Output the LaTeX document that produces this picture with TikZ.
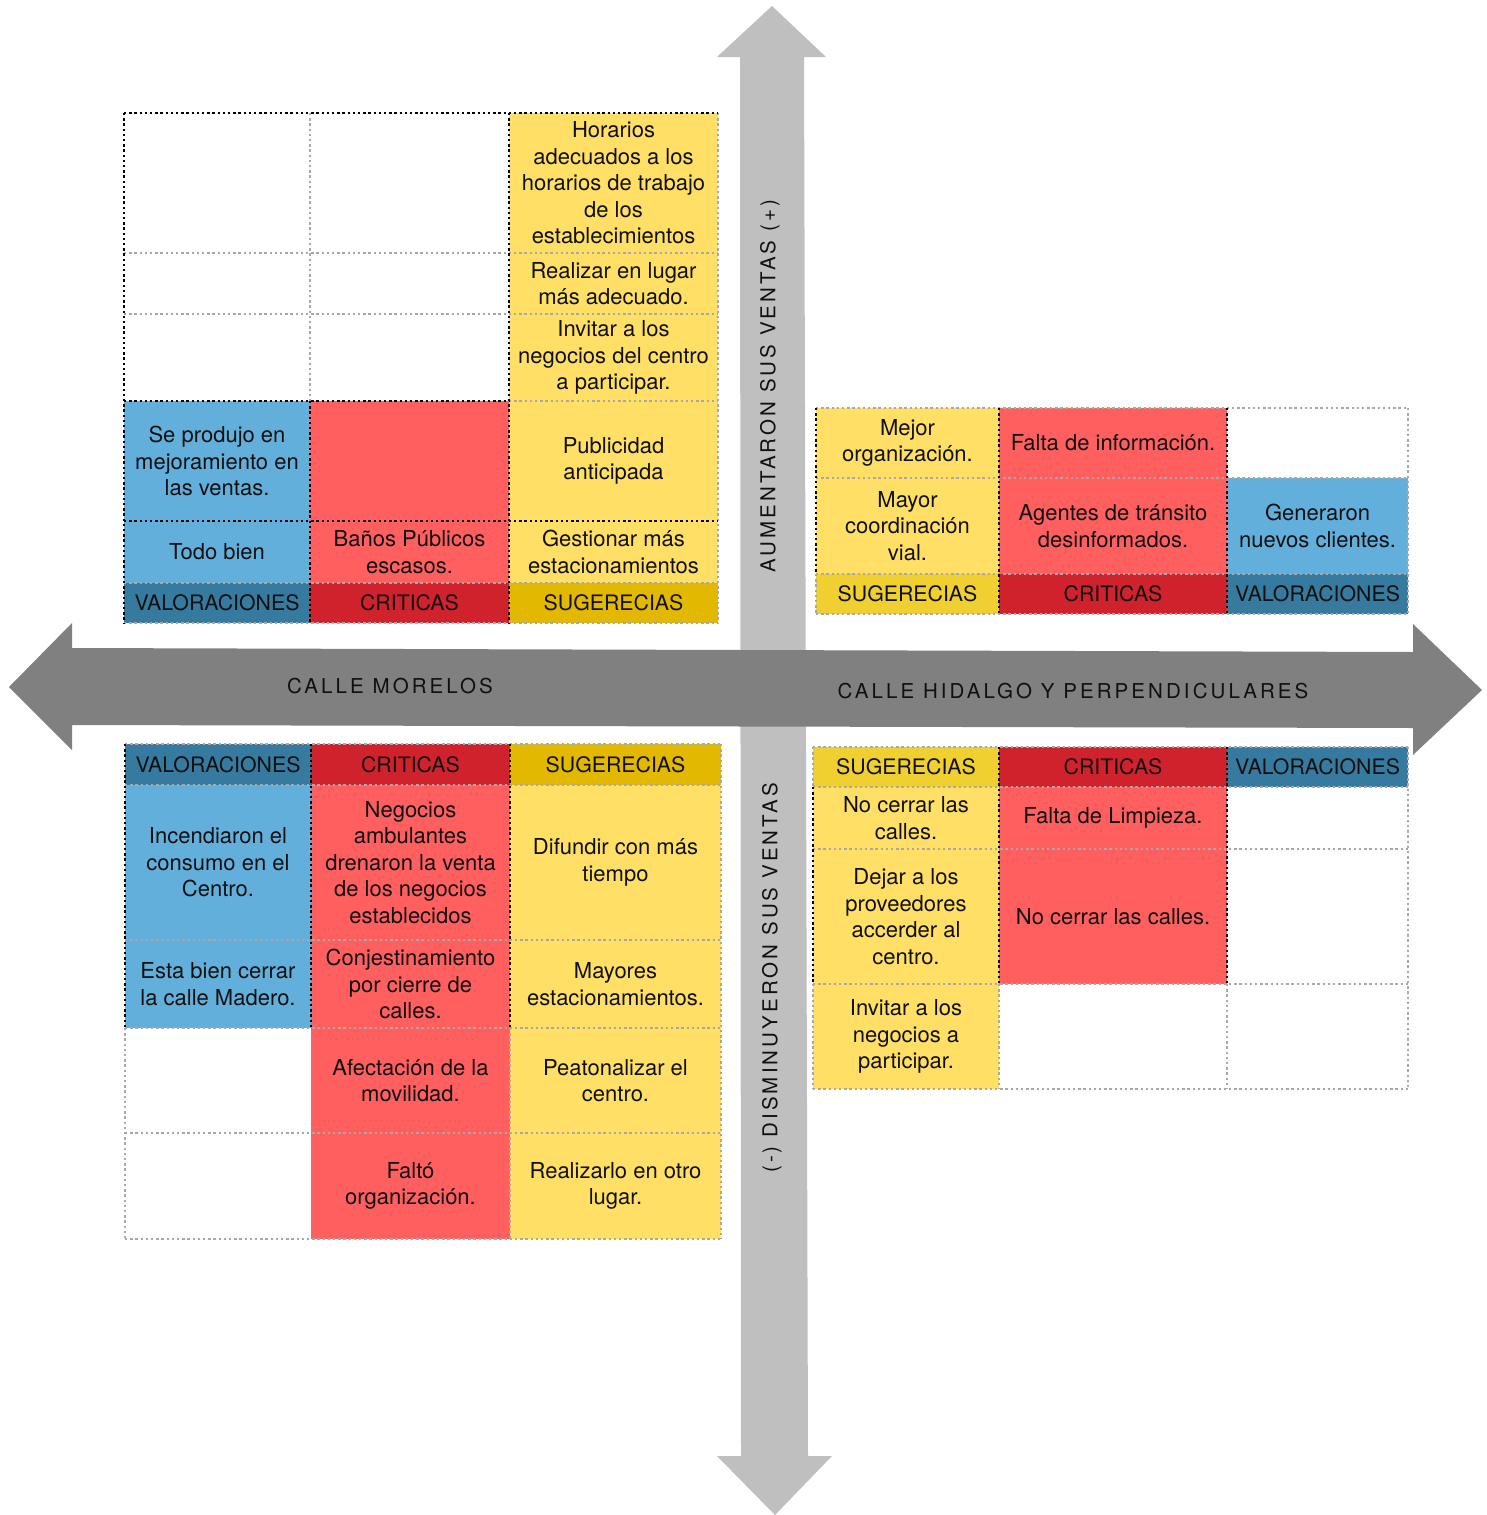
\documentclass[tikz,border=0pt]{standalone}
\usepackage{fontspec}
\setmainfont{TeX Gyre Heros}
\newfontfamily\spaced[LetterSpace=15]{TeX Gyre Heros}
\definecolor{ylt}{HTML}{FFDF66}
\definecolor{rlt}{HTML}{FF5F5F}
\definecolor{blt}{HTML}{63AFDB}
\definecolor{bdk}{HTML}{367B9F}
\definecolor{rdk}{HTML}{D0222D}
\definecolor{ydk}{HTML}{E3B800}
\definecolor{ydktwo}{HTML}{F0D030}
\definecolor{agrey}{HTML}{BFBFBF}
\definecolor{hgrey}{HTML}{808080}
\definecolor{gline}{HTML}{A8A8A8}
\definecolor{txt}{HTML}{101010}
\newcommand\mycell[7]{\fill[#6] (#2,#3) rectangle (#4,#5);
  \node[celltext] (#1) at ({(#2+#4)/2},{(#3+#5)/2}) {#7};}
\newcommand\myhead[7]{\fill[#6] (#2,#3) rectangle (#4,#5);
  \node[headtext] (#1) at ({(#2+#4)/2},{(#3+#5)/2}) {#7};}
\newcommand\mygl[4]{\draw[gdot] (#1,#2) -- (#3,#4);}
\newcommand\mybl[4]{\draw[bdot] (#1,#2) -- (#3,#4);}
\begin{document}
\begin{tikzpicture}[x=1pt,y=-1pt,
  celltext/.style={align=center,text=txt,font=\fontsize{22}{26.5}\selectfont,inner sep=0pt},
  headtext/.style={align=center,text=txt,font=\fontsize{21.3}{26}\selectfont,inner sep=0pt},
  axislabel/.style={text=txt,font=\fontsize{20.5}{24}\selectfont\spaced,inner sep=0pt},
  gdot/.style={draw=gline,line width=2.4pt,dash pattern=on 2.4pt off 2.8pt},
  bdot/.style={draw=black,line width=2.4pt,dash pattern=on 2.4pt off 2.8pt}]
\useasboundingbox (0,0) rectangle (1486,1515);
% vertical arrow
\fill[agrey] (772,6) -- (826,57) -- (804,57) -- (808,1456) -- (832,1456) -- (775,1515)
  -- (717,1456) -- (741,1456) -- (740,57) -- (717,57) -- cycle;
% horizontal arrow
\fill[hgrey] (9,687) -- (72,623) -- (72,648) -- (1413,652) -- (1413,624) -- (1482,690)
  -- (1413,755) -- (1413,728) -- (72,725) -- (72,750) -- cycle;
\node[axislabel,rotate=90] (vup) at (770,386) {AUMENTARON SUS VENTAS (+)};
\node[axislabel,rotate=90] (vdn) at (772,978) {(-) DISMINUYERON SUS VENTAS};
\node[axislabel] (hl) at (390,686) {CALLE MORELOS};
\node[axislabel] (hr) at (1073,691) {CALLE HIDALGO Y PERPENDICULARES};
% ---------- top-left ----------
\mycell{tlA3}{509}{113}{718}{253}{ylt}{Horarios\\adecuados a los\\horarios de trabajo\\de los\\establecimientos}
\mycell{tlB3}{509}{253}{718}{314}{ylt}{Realizar en lugar\\más adecuado.}
\mycell{tlC3}{509}{314}{718}{401}{ylt}{Invitar a los\\negocios del centro\\a participar.}
\mycell{tlD1}{124}{401}{310}{521}{blt}{Se produjo en\\mejoramiento en\\las ventas.}
\mycell{tlD2}{310}{401}{509}{521}{rlt}{}
\mycell{tlD3}{509}{401}{718}{521}{ylt}{Publicidad\\anticipada}
\mycell{tlE1}{124}{521}{310}{583}{blt}{Todo bien}
\mycell{tlE2}{310}{521}{509}{583}{rlt}{Baños Públicos\\escasos.}
\mycell{tlE3}{509}{521}{718}{583}{ylt}{Gestionar más\\estacionamientos}
\myhead{tlH1}{124}{583}{310}{623}{bdk}{VALORACIONES}
\myhead{tlH2}{310}{583}{509}{623}{rdk}{CRITICAS}
\myhead{tlH3}{509}{583}{718}{623}{ydk}{SUGERECIAS}
\mygl{124}{253}{718}{253}
\mygl{124}{314}{718}{314}
\mygl{509}{401}{718}{401}
\mygl{124}{583}{718}{583}
\mygl{124}{623}{718}{623}
\mygl{310}{113}{310}{401}
\mygl{718}{113}{718}{623}
\mybl{124}{113}{718}{113}
\mybl{124}{401}{509}{401}
\mybl{124}{521}{718}{521}
\mybl{124}{113}{124}{623}
\mybl{310}{401}{310}{623}
\mybl{509}{113}{509}{623}
% ---------- top-right ----------
\mycell{trA1}{816}{408}{999}{478}{ylt}{Mejor\\organización.}
\mycell{trA2}{999}{408}{1227}{478}{rlt}{Falta de información.}
\mycell{trB1}{816}{478}{999}{574}{ylt}{Mayor\\coordinación\\vial.}
\mycell{trB2}{999}{478}{1227}{574}{rlt}{Agentes de tránsito\\desinformados.}
\mycell{trB3}{1227}{478}{1408}{574}{blt}{Generaron\\nuevos clientes.}
\myhead{trH1}{816}{574}{999}{614}{ydktwo}{SUGERECIAS}
\myhead{trH2}{999}{574}{1227}{614}{rdk}{CRITICAS}
\myhead{trH3}{1227}{574}{1408}{614}{bdk}{VALORACIONES}
\mygl{816}{408}{1408}{408}
\mygl{816}{478}{1408}{478}
\mygl{816}{574}{1408}{574}
\mygl{816}{614}{1408}{614}
\mygl{1408}{408}{1408}{614}
\mygl{816}{574}{816}{614}
\mybl{816}{408}{816}{574}
\mybl{999}{408}{999}{614}
\mybl{1227}{408}{1227}{614}
% ---------- bottom-left ----------
\myhead{blH1}{125}{744}{311}{785}{bdk}{VALORACIONES}
\myhead{blH2}{311}{744}{510}{785}{rdk}{CRITICAS}
\myhead{blH3}{510}{744}{721}{785}{ydk}{SUGERECIAS}
\mycell{blA1}{125}{785}{311}{940}{blt}{Incendiaron el\\consumo en el\\Centro.}
\mycell{blA2}{311}{785}{510}{940}{rlt}{Negocios\\ambulantes\\drenaron la venta\\de los negocios\\establecidos}
\mycell{blA3}{510}{785}{721}{940}{ylt}{Difundir con más\\tiempo}
\mycell{blB1}{125}{940}{311}{1028}{blt}{Esta bien cerrar\\la calle Madero.}
\mycell{blB2}{311}{940}{510}{1028}{rlt}{Conjestinamiento\\por cierre de\\calles.}
\mycell{blB3}{510}{940}{721}{1028}{ylt}{Mayores\\estacionamientos.}
\mycell{blC2}{311}{1028}{510}{1133}{rlt}{Afectación de la\\movilidad.}
\mycell{blC3}{510}{1028}{721}{1133}{ylt}{Peatonalizar el\\centro.}
\mycell{blD2}{311}{1133}{510}{1239}{rlt}{Faltó\\organización.}
\mycell{blD3}{510}{1133}{721}{1239}{ylt}{Realizarlo en otro\\lugar.}
\mygl{125}{744}{721}{744}
\mygl{125}{785}{721}{785}
\mygl{125}{940}{721}{940}
\mygl{125}{1028}{721}{1028}
\mygl{125}{1133}{721}{1133}
\mygl{125}{1239}{721}{1239}
\mygl{721}{744}{721}{1239}
\mygl{125}{1028}{125}{1239}
\mygl{510}{1028}{510}{1239}
\mybl{125}{744}{125}{1028}
\mybl{311}{744}{311}{1028}
\mybl{510}{744}{510}{1028}
% ---------- bottom-right ----------
\myhead{brH1}{813}{747}{999}{787}{ydktwo}{SUGERECIAS}
\myhead{brH2}{999}{747}{1227}{787}{rdk}{CRITICAS}
\myhead{brH3}{1227}{747}{1408}{787}{bdk}{VALORACIONES}
\mycell{brA1}{813}{787}{999}{849}{ylt}{No cerrar las\\calles.}
\mycell{brA2}{999}{787}{1227}{849}{rlt}{Falta de Limpieza.}
\mycell{brB1}{813}{849}{999}{984}{ylt}{Dejar a los\\proveedores\\accerder al\\centro.}
\mycell{brB2}{999}{849}{1227}{984}{rlt}{No cerrar las calles.}
\mycell{brC1}{813}{984}{999}{1089}{ylt}{Invitar a los\\negocios a\\participar.}
\mygl{813}{747}{1408}{747}
\mygl{813}{787}{1408}{787}
\mygl{813}{849}{1408}{849}
\mygl{813}{984}{1408}{984}
\mygl{813}{1089}{1408}{1089}
\mygl{1408}{747}{1408}{1089}
\mygl{813}{747}{813}{787}
\mygl{813}{984}{813}{1089}
\mygl{999}{984}{999}{1089}
\mygl{1227}{984}{1227}{1089}
\mybl{813}{787}{813}{984}
\mybl{999}{747}{999}{984}
\mybl{1227}{747}{1227}{984}
\end{tikzpicture}
\end{document}
